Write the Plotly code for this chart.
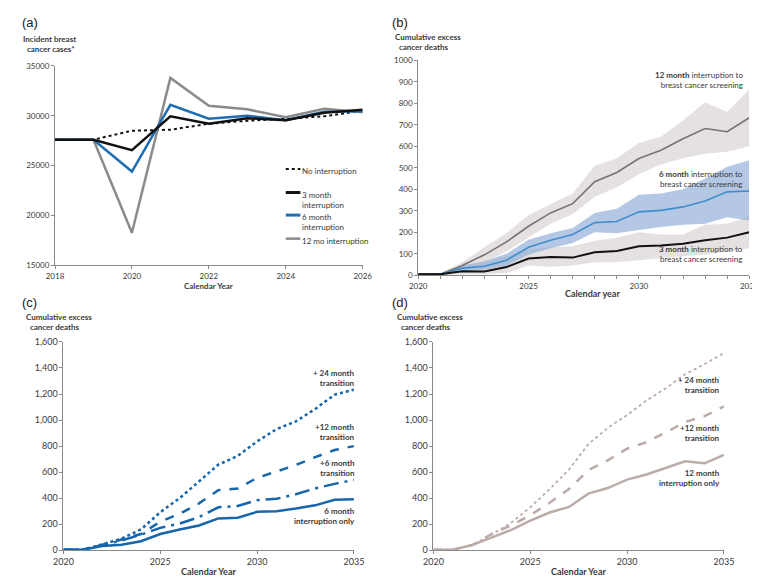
import plotly.graph_objects as go

W, H = 760, 577

# ---------- Panel (a) data ----------
years_a = [2018, 2019, 2020, 2021, 2022, 2023, 2024, 2025, 2026]
no_interruption = [27600, 27600, 28500, 28600, 29200, 29500, 29700, 29950, 30500]
m3_interruption = [27600, 27600, 26550, 29950, 29200, 29750, 29550, 30300, 30600]
m6_interruption = [27600, 27600, 24400, 31100, 29700, 30000, 29550, 30400, 30450]
m12_interruption = [27600, 27600, 18250, 33800, 31000, 30650, 29850, 30700, 30350]

# ---------- Panel (b) data ----------
years_b = list(range(2020, 2036))
b12_mid = [5, 5, 45, 95, 155, 228, 290, 333, 435, 478, 543, 582, 635, 683, 668, 733]
b12_hi = [5, 8, 60, 130, 195, 280, 330, 380, 510, 545, 615, 645, 720, 805, 760, 865]
b12_lo = [0, 0, 25, 60, 110, 175, 240, 285, 365, 410, 470, 515, 545, 565, 575, 600]
b6_mid = [5, 5, 33, 42, 70, 130, 163, 190, 245, 250, 295, 302, 318, 345, 388, 392]
b6_hi = [5, 8, 45, 65, 100, 165, 195, 220, 290, 310, 375, 380, 400, 450, 505, 535]
b6_lo = [0, 0, 20, 25, 45, 95, 125, 150, 200, 195, 210, 225, 235, 240, 270, 255]
b3_mid = [5, 5, 18, 17, 38, 78, 85, 82, 107, 113, 135, 138, 147, 163, 175, 200]
b3_hi = [5, 5, 40, 60, 90, 120, 130, 135, 160, 175, 200, 190, 190, 235, 240, 275]
b3_lo = [0, 0, 5, 5, 10, 45, 40, 45, 60, 60, 70, 80, 90, 95, 110, 125]

# ---------- Panel (c) data ----------
c_6only = [5, 5, 33, 42, 70, 125, 160, 190, 245, 250, 295, 300, 320, 345, 388, 392]
c_plus6 = [5, 5, 40, 75, 120, 172, 205, 255, 330, 340, 385, 395, 430, 475, 510, 540]
c_plus12 = [5, 5, 40, 80, 125, 220, 280, 360, 462, 475, 556, 605, 655, 715, 770, 800]
c_plus24 = [5, 5, 45, 90, 160, 292, 400, 530, 658, 725, 836, 930, 990, 1085, 1195, 1233]

# ---------- Panel (d) data ----------
d_12only = [5, 5, 40, 95, 155, 228, 290, 333, 435, 478, 543, 582, 635, 683, 668, 733]
d_plus12 = [5, 5, 40, 125, 190, 270, 365, 470, 615, 690, 780, 830, 905, 985, 1030, 1105]
d_plus24 = [5, 5, 40, 120, 210, 330, 470, 620, 815, 940, 1038, 1150, 1245, 1352, 1430, 1515]

FONT = "Lato"
AX = "#8a8a8a"
TXT = "#3a3a3a"


def px(x):
    return x / W


def py(y):
    return 1 - y / H


fig = go.Figure()

# Panel a
fig.add_trace(go.Scatter(x=years_a, y=no_interruption, mode="lines",
                         line=dict(color="#111111", width=2, dash="dot"),
                         xaxis="x", yaxis="y", showlegend=False))
fig.add_trace(go.Scatter(x=years_a, y=m12_interruption, mode="lines",
                         line=dict(color="#8c8a8a", width=2.5),
                         xaxis="x", yaxis="y", showlegend=False))
fig.add_trace(go.Scatter(x=years_a, y=m6_interruption, mode="lines",
                         line=dict(color="#1f6db3", width=2.5),
                         xaxis="x", yaxis="y", showlegend=False))
fig.add_trace(go.Scatter(x=years_a, y=m3_interruption, mode="lines",
                         line=dict(color="#111111", width=2.5),
                         xaxis="x", yaxis="y", showlegend=False))

# Panel b bands
BAND_G = "rgba(225,220,218,0.85)"
BAND_B = "rgba(140,170,215,0.65)"
for lo, hi, col in [(b12_lo, b12_hi, BAND_G), (b3_lo, b3_hi, BAND_G), (b6_lo, b6_hi, BAND_B)]:
    fig.add_trace(go.Scatter(x=years_b, y=lo, mode="lines", line=dict(width=0),
                             xaxis="x2", yaxis="y2", showlegend=False, hoverinfo="skip"))
    fig.add_trace(go.Scatter(x=years_b, y=hi, mode="lines", line=dict(width=0),
                             fill="tonexty", fillcolor=col,
                             xaxis="x2", yaxis="y2", showlegend=False, hoverinfo="skip"))
fig.add_trace(go.Scatter(x=years_b, y=b12_mid, mode="lines",
                         line=dict(color="#7a7272", width=1.6),
                         xaxis="x2", yaxis="y2", showlegend=False))
fig.add_trace(go.Scatter(x=years_b, y=b6_mid, mode="lines",
                         line=dict(color="#3f8fcc", width=1.6),
                         xaxis="x2", yaxis="y2", showlegend=False))
fig.add_trace(go.Scatter(x=years_b, y=b3_mid, mode="lines",
                         line=dict(color="#111111", width=2),
                         xaxis="x2", yaxis="y2", showlegend=False))

# Panel c
CB = "#1766ab"
for ys, dash in [(c_plus24, "dot"), (c_plus12, "dash"), (c_plus6, "longdashdot"), (c_6only, "solid")]:
    fig.add_trace(go.Scatter(x=years_b, y=ys, mode="lines",
                             line=dict(color=CB, width=2.5, dash=dash),
                             xaxis="x3", yaxis="y3", showlegend=False))

# Panel d
CD = "#bcaca9"
for ys, dash, w in [(d_plus24, "dot", 1.8), (d_plus12, "dash", 2.5), (d_12only, "solid", 2.5)]:
    fig.add_trace(go.Scatter(x=years_b, y=ys, mode="lines",
                             line=dict(color=CD, width=w, dash=dash),
                             xaxis="x4", yaxis="y4", showlegend=False))

# Legend of panel a (drawn as lines + text)
leg_items = [(158, "No interruption", "#111111", "dot", 2),
             (182, "3 month<br>interruption", "#111111", "solid", 3),
             (205, "6 month<br>interruption", "#1f6db3", "solid", 3),
             (229, "12 mo interruption", "#8c8a8a", "solid", 2.5)]
for yy, label, col, dash, w in leg_items:
    fig.add_shape(type="line", xref="paper", yref="paper",
                  x0=px(275), x1=px(290), y0=py(yy), y1=py(yy),
                  line=dict(color=col, width=w, dash=dash))
    fig.add_annotation(x=px(290), y=py(yy - 5), xref="paper", yref="paper",
                       text=label, showarrow=False, xanchor="left", yanchor="top",
                       align="left", font=dict(family=FONT, size=8, color=TXT))

common_axis = dict(showgrid=False, zeroline=False, showline=True, linecolor=AX,
                   linewidth=1, ticks="outside", tickcolor=AX, ticklen=3,
                   tickfont=dict(family=FONT, size=8, color=TXT))

fig.update_layout(
    width=W, height=H, margin=dict(l=0, r=0, t=0, b=0),
    paper_bgcolor="white", plot_bgcolor="white",
    xaxis=dict(domain=[px(38), px(354)], range=[2018, 2026], tickvals=[2018, 2020, 2022, 2024, 2026],
               anchor="y", **common_axis),
    yaxis=dict(domain=[py(256), py(53)], range=[15000, 35000], dtick=5000, tickformat="d",
               anchor="x", **common_axis),
    xaxis2=dict(domain=[px(411), px(751)], range=[2020, 2035], tickvals=years_b,
                ticktext=[str(y) if y % 5 == 0 else "" for y in years_b],
                anchor="y2", **common_axis),
    yaxis2=dict(domain=[py(266.3), py(47.3)], range=[0, 1000], dtick=100, anchor="x2", **common_axis),
    xaxis3=dict(domain=[px(46.7), px(345)], range=[2020, 2035], dtick=5, anchor="y3", **common_axis),
    yaxis3=dict(domain=[py(546.7), py(334.3)], range=[0, 1600], dtick=200, tickformat=",",
                anchor="x3", **common_axis),
    xaxis4=dict(domain=[px(426.7), px(725)], range=[2020, 2035], dtick=5, anchor="y4", **common_axis),
    yaxis4=dict(domain=[py(546.7), py(334.3)], range=[0, 1600], dtick=200, tickformat=",",
                anchor="x4", **common_axis),
)
for ax in ["xaxis3", "yaxis3", "xaxis4", "yaxis4"]:
    fig.layout[ax].tickfont.size = 9


def note(x, y, text, size=8, anchor="left", bold=False, align=None, family=FONT, color=TXT):
    fig.add_annotation(x=px(x), y=py(y), xref="paper", yref="paper", text=text,
                       showarrow=False, xanchor=anchor, yanchor="middle",
                       align=align or anchor, font=dict(family=family, size=size, color=color))


# Panel letters
note(2, 9, "(a)", size=13, family="Liberation Sans", color="#222222")
note(382, 9, "(b)", size=13, family="Liberation Sans", color="#222222")
note(2, 294, "(c)", size=13, family="Liberation Sans", color="#222222")
note(382, 294, "(d)", size=13, family="Liberation Sans", color="#222222")

# Axis titles
note(3, 31, "<b>Incident breast<br>  cancer cases*</b>", size=8)
note(385, 29, "<b>Cumulative excess<br>  cancer deaths</b>", size=8)
note(6, 314, "<b>Cumulative excess<br>  cancer deaths</b>", size=8)
note(387, 314, "<b>Cumulative excess<br>  cancer deaths</b>", size=8)
note(196, 277, "<b>Calendar Year</b>", size=8, anchor="center")
note(590, 285, "<b>Calendar year</b>", size=9, anchor="center")
note(196, 568, "<b>Calendar Year</b>", size=9, anchor="center")
note(576, 568, "<b>Calendar Year</b>", size=9, anchor="center")

# Panel b labels
note(747, 67, "<b>12 month</b> interruption to<br>breast cancer screening", size=8, anchor="right")
note(747, 168, "<b>6 month</b> interruption to<br>breast cancer screening", size=8, anchor="right")
note(747, 245, "<b>3 month</b> interruption to<br>breast cancer screening", size=8, anchor="right")

# Panel c labels
note(348, 371, "<b>+ 24 month<br>transition</b>", size=8, anchor="right")
note(348, 426, "<b>+12 month<br>transition</b>", size=8, anchor="right")
note(348, 463, "<b>+6 month<br>transition</b>", size=8, anchor="right")
note(348, 512, "<b>6 month<br>interruption only</b>", size=8, anchor="right")

# Panel d labels
note(723, 378, "<b>+ 24 month<br>transition</b>", size=8, anchor="right")
note(723, 427, "<b>+12 month<br>transition</b>", size=8, anchor="right")
note(723, 473, "<b>12 month<br>interruption only</b>", size=8, anchor="right")

fig.write_html("out.html")
